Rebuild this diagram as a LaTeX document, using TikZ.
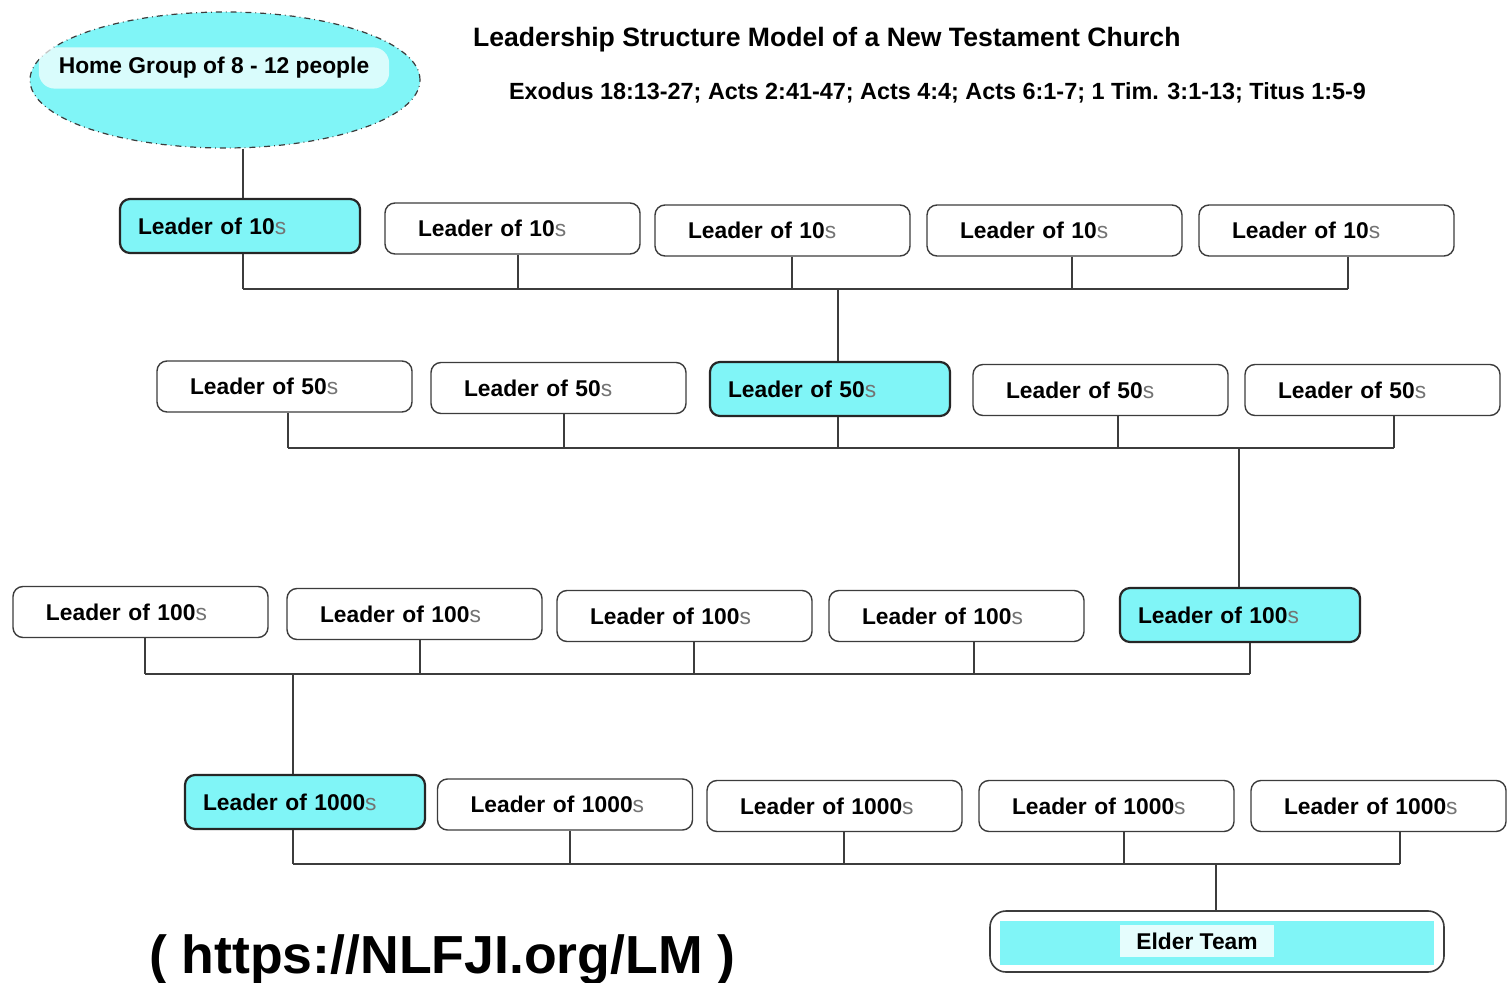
\documentclass[tikz,border=0pt]{standalone}
\usepackage{fontspec}
\setmainfont{Liberation Sans}
\usetikzlibrary{calc,shapes.geometric}
\definecolor{boxcyan}{RGB}{128,245,247}
\definecolor{linegray}{RGB}{60,60,60}
\newcommand{\leaderof}[1]{Leader of #1{\mdseries\color{black!55}s}}
\tikzset{
	leadbox/.style={draw=linegray, line width=0.7pt, rounded corners=5pt, fill=white, minimum height=25.5pt, text width=94.5pt, inner xsep=16.5pt, align=left, font=\fontsize{11.4}{13}\selectfont\bfseries},
	leadcyan/.style={leadbox, fill=boxcyan, draw=black!85, line width=1.1pt, minimum height=27pt, text width=102pt, inner xsep=9pt},
	conn/.style={draw=linegray, line width=0.9pt}
}
\begin{document}
\begin{tikzpicture}[x=0.5pt,y=-0.5pt]
		\fill[white] (0,0) rectangle (1509,983);
		\useasboundingbox (0,0) rectangle (1509,983);
		% headings
		\node[anchor=base west, font=\fontsize{13.3}{15}\selectfont\bfseries] (title) at (466,47) {Leadership Structure Model of a New Testament Church};
		\node[anchor=base west, font=\fontsize{11.7}{14}\selectfont\bfseries] (refs) at (502,100) {Exodus 18:13-27; Acts 2:41-47; Acts 4:4; Acts 6:1-7; 1 Tim. 3:1-13; Titus 1:5-9};
		\node[anchor=base west, font=\fontsize{26.8}{30}\selectfont\bfseries] (url) at (142,973) {( https://NLFJI.org/LM )};
		% home group
		\node[ellipse, draw=linegray, dash dot, line width=0.6pt, fill=boxcyan, minimum width=195pt, minimum height=68pt] (home) at (225,80) {};
		\node[fill=white, fill opacity=0.7, text opacity=1, rounded corners=8pt, inner xsep=10pt, inner ysep=5pt, font=\fontsize{11.4}{13}\selectfont\bfseries] (homelbl) at (214,68) {Home Group of 8 - 12 people};
		% leaders
		\node[leadcyan] (t1) at (240,226) {\leaderof{10}};
		\foreach \n/\x/\y in {t2/512.5/228.5, t3/782.5/230.5, t4/1054.5/230.5, t5/1326.5/230.5}
			\node[leadbox] (\n) at (\x,\y) {\leaderof{10}};
		\node[leadcyan] (f3) at (830,389) {\leaderof{50}};
		\foreach \n/\x/\y in {f1/284.5/386.5, f2/558.5/388, f4/1100.5/390, f5/1372.5/390}
			\node[leadbox] (\n) at (\x,\y) {\leaderof{50}};
		\node[leadcyan] (h5) at (1240,615) {\leaderof{100}};
		\foreach \n/\x/\y in {h1/140.5/612, h2/414.5/614, h3/684.5/616, h4/956.5/616}
			\node[leadbox] (\n) at (\x,\y) {\leaderof{100}};
		\node[leadcyan] (k1) at (305,802) {\leaderof{1000}};
		\foreach \n/\x/\y in {k2/565/804.5, k3/834.5/806, k4/1106.5/806, k5/1378.5/806}
			\node[leadbox] (\n) at (\x,\y) {\leaderof{1000}};
		% elder team
		\node[draw=linegray, line width=0.8pt, rounded corners=8pt, fill=white, minimum width=227pt, minimum height=30.5pt] (elder) at (1217,941.5) {};
		\node[fill=boxcyan, minimum width=217pt, minimum height=22pt, inner sep=0pt] (eldfill) at (1217,943) {};
		\node[fill=white, fill opacity=0.8, text opacity=1, inner xsep=8pt, inner ysep=4pt, font=\fontsize{11.4}{13}\selectfont\bfseries] (eldlbl) at (1197,941) {Elder Team};
		% buses
		\coordinate (bus1) at (0,289);
		\coordinate (bus2) at (0,448);
		\coordinate (bus3) at (0,674);
		\coordinate (bus4) at (0,864);
		\foreach \n/\d in {t1/3, t2/5.5, t3/9.5, t4/17.5, t5/21.5}{
			\coordinate (s\n) at ($(\n.south)+(\d,0)$);
			\draw[conn] (s\n) -- (s\n |- bus1);}
		\foreach \n/\d in {f1/3.5, f2/5.5, f3/8, f4/17.5, f5/21.5}{
			\coordinate (s\n) at ($(\n.south)+(\d,0)$);
			\draw[conn] (s\n) -- (s\n |- bus2);}
		\foreach \n/\d in {h1/4.5, h2/5.5, h3/9.5, h4/17.5, h5/10}{
			\coordinate (s\n) at ($(\n.south)+(\d,0)$);
			\draw[conn] (s\n) -- (s\n |- bus3);}
		\foreach \n/\d in {k1/-12, k2/5, k3/9.5, k4/17.5, k5/21.5}{
			\coordinate (s\n) at ($(\n.south)+(\d,0)$);
			\draw[conn] (s\n) -- (s\n |- bus4);}
		\draw[conn] (st1 |- bus1) -- (st5 |- bus1);
		\draw[conn] (sf1 |- bus2) -- (sf5 |- bus2);
		\draw[conn] (sh1 |- bus3) -- (sh5 |- bus3);
		\draw[conn] (sk1 |- bus4) -- (sk5 |- bus4);
		% links between levels
		\coordinate (up0) at ($(t1.north)+(3,0)$);
		\draw[conn] (up0 |- home.south) -- (up0);
		\coordinate (up1) at ($(f3.north)+(8,0)$);
		\draw[conn] (up1 |- bus1) -- (up1);
		\coordinate (up2) at ($(h5.north)+(-1,0)$);
		\draw[conn] (up2 |- bus2) -- (up2);
		\coordinate (up3) at ($(k1.north)+(-12,0)$);
		\draw[conn] (up3 |- bus3) -- (up3);
		\coordinate (up4) at ($(elder.north)+(-1,0)$);
		\draw[conn] (up4 |- bus4) -- (up4);
	\end{tikzpicture}
\end{document}
